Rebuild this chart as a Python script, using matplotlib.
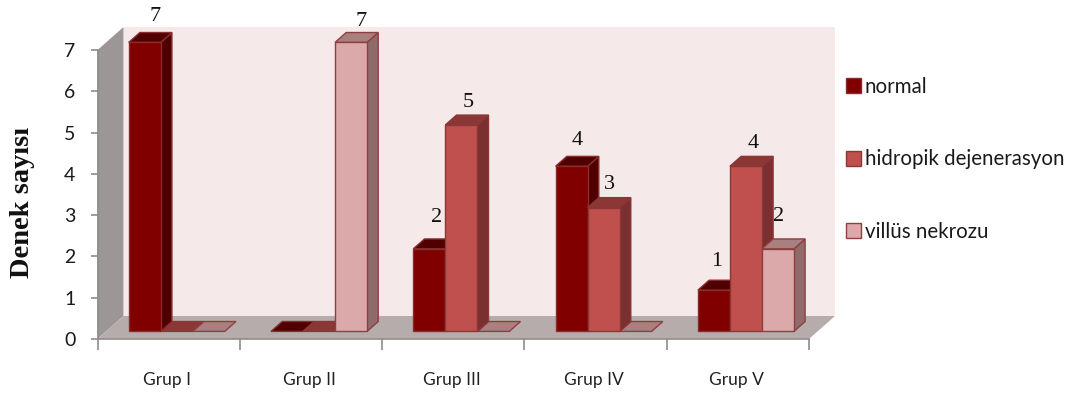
import matplotlib
matplotlib.use("Agg")
import matplotlib.pyplot as plt
from matplotlib.patches import Polygon, Patch
import numpy as np

groups = ["Grup I", "Grup II", "Grup III", "Grup IV", "Grup V"]
normal = [7, 0, 2, 4, 1]
hidropik = [0, 0, 5, 3, 4]
villus = [0, 7, 0, 0, 2]
series_names = ["normal", "hidropik dejenerasyon", "villüs nekrozu"]

# front, top, side, edge
colors = [
    ("#800000", "#500000", "#4f0000", "#8a2c2c"),
    ("#c0504d", "#8a3735", "#7a3030", "#8a3735"),
    ("#dba9a9", "#a88080", "#8f6b6b", "#8f3f3f"),
]

W, H = 1082, 398
fig = plt.figure(figsize=(W / 100, H / 100), dpi=100, facecolor="white")
# the axes rectangle is the front edge of the 3D box
ax = fig.add_axes([97.5 / W, (H - 339) / H, (809 - 97.5) / W, (339 - 50) / H])
ax.set_xlim(0, 5)
ax.set_ylim(0, 7)
ax.patch.set_visible(False)

# size of the box depth, in data units
px_x = 5 / (809 - 97.5)
px_y = 7 / (339 - 50)
DX = 26 * px_x
DY = 23 * px_y


def pt(x, y, d=0.0):
    return (x + d * DX, y + d * DY)


def poly(points, face, edge="none", lw=0.0, z=1):
    ax.add_patch(Polygon(points, closed=True, facecolor=face, edgecolor=edge,
                         linewidth=lw, zorder=z, clip_on=False, joinstyle="miter"))


# walls and floor
poly([pt(0, 0, 1), pt(5, 0, 1), pt(5, 7, 1), pt(0, 7, 1)], "#f5e9e9", z=1)
poly([pt(0, 0), pt(0, 0, 1), pt(0, 7, 1), pt(0, 7)], "#9d9696", z=1)
poly([pt(0, 0), pt(5, 0), pt(5, 0, 1), pt(0, 0, 1)], "#b6acac", z=1)

bar_w = 32 * px_x
gap = (1 - 3 * bar_w) / 2 - 0.5 * px_x
d0, d1 = 0.33, 0.76


def draw_bar(x, v, cols, z):
    front, top, side, edge = cols
    x2 = x + bar_w
    if v > 0:
        poly([pt(x2, 0, d0), pt(x2, 0, d1), pt(x2, v, d1), pt(x2, v, d0)], side, edge, 1.0, z)
    poly([pt(x, v, d0), pt(x2, v, d0), pt(x2, v, d1), pt(x, v, d1)], top, edge, 1.0, z)
    if v > 0:
        poly([pt(x, 0, d0), pt(x2, 0, d0), pt(x2, v, d0), pt(x, v, d0)], front, edge, 1.0, z + 0.5)


# left to right so nearer faces overlap correctly, tall bars last within a group
for g in range(len(groups)):
    vals = [normal[g], hidropik[g], villus[g]]
    for s in range(3):
        x = g + gap + s * bar_w
        z = 3 + g * 4 + s if vals[s] > 0 else 2 + g * 4
        draw_bar(x, vals[s], colors[s], z)

# value labels, offsets in pixels from the top-left of each bar front
labels = [
    (0, 0, 26, 26), (1, 2, 26, 21), (2, 0, 23, 31), (2, 1, 23, 22),
    (3, 0, 22, 26), (3, 1, 22, 23), (4, 0, 19, 29), (4, 1, 23, 23), (4, 2, 17, 32),
]
all_vals = [normal, hidropik, villus]
for g, s, ox, oy in labels:
    v = all_vals[s][g]
    x, y = pt(g + gap + s * bar_w, v, d0)
    ax.annotate(str(v), (x, y), xytext=(ox * 0.72, oy * 0.72), textcoords="offset points",
                ha="center", va="center", fontsize=16, family="Liberation Serif",
                color="#111111", zorder=60, annotation_clip=False)

ax.set_yticks(range(8))
ax.set_xticks(range(6))
ax.set_xticklabels([])
ax.tick_params(axis="y", length=5, width=1.2, color="#8c8c8c", labelsize=14,
               labelcolor="#1a1a1a", pad=11, labelfontfamily="Lato")
ax.tick_params(axis="x", length=8, width=1.2, color="#8c8c8c")
for name in ["top", "right"]:
    ax.spines[name].set_visible(False)
for name in ["left", "bottom"]:
    ax.spines[name].set_color("#8c8c8c")
    ax.spines[name].set_linewidth(1.2)
    ax.spines[name].set_zorder(50)

# category names sit lower than the tick labels would
for g, name in enumerate(groups):
    ax.annotate(name, (g + 0.5, 0), xytext=(-1, -41 * 0.72), textcoords="offset points",
                ha="center", va="center", fontsize=12.5, family="Lato", color="#222222",
                annotation_clip=False)

fig.text(23 / W, (H - 202) / H, "Denek sayısı", rotation=90, ha="center", va="center",
         fontsize=20.5, fontweight="bold", family="Liberation Serif", color="#111111")

handles = [Patch(facecolor=c[0], edgecolor=c[3], linewidth=1.0) for c in colors]
fig.legend(handles, series_names, loc="upper left", bbox_to_anchor=(846 / W, (H - 77) / H),
           frameon=False, prop={"family": "Lato", "size": 14.8}, labelspacing=2.55,
           handlelength=0.72, handleheight=0.72, handletextpad=0.2, borderpad=0, borderaxespad=0,
           labelcolor="#1a1a1a")

fig.savefig("out.png", dpi=100, facecolor="white")
